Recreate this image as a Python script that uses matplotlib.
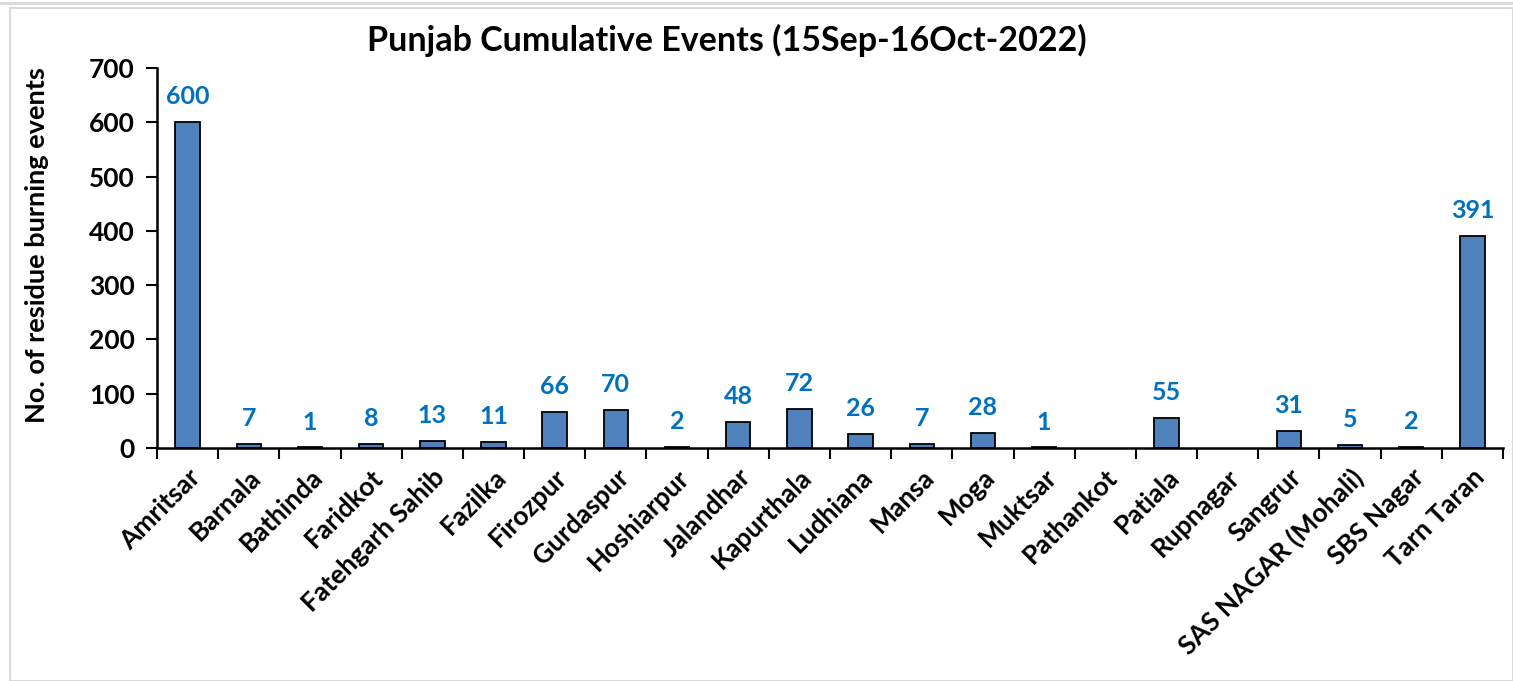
import numpy as np
import matplotlib
matplotlib.use("Agg")
import matplotlib.pyplot as plt
from matplotlib.patches import Rectangle

# DATA
districts = [
    "Amritsar", "Barnala", "Bathinda", "Faridkot", "Fatehgarh Sahib",
    "Fazilka", "Firozpur", "Gurdaspur", "Hoshiarpur", "Jalandhar",
    "Kapurthala", "Ludhiana", "Mansa", "Moga", "Muktsar", "Pathankot",
    "Patiala", "Rupnagar", "Sangrur", "SAS NAGAR (Mohali)", "SBS Nagar",
    "Tarn Taran",
]
events = [600, 7, 1, 8, 13, 11, 66, 70, 2, 48, 72, 26, 7, 28, 1, 0,
          55, 0, 31, 5, 2, 391]

title = "Punjab Cumulative Events (15Sep-16Oct-2022)"
ylabel = "No. of residue burning events"

plt.rcParams["font.family"] = ["Lato", "DejaVu Sans"]
plt.rcParams["font.weight"] = "bold"

fig = plt.figure(figsize=(15.13, 6.81), dpi=100)

# outer chart frame
fig.patches.append(Rectangle(
    (10 / 1513, 0), 1 - 10 / 1513, 1 - 8 / 681,
    transform=fig.transFigure, fill=False,
    edgecolor="#d9d9d9", linewidth=1.5
))
fig.add_artist(plt.Line2D([0, 1], [1 - 3 / 681, 1 - 3 / 681],
                          transform=fig.transFigure,
                          color="#d9d9d9", linewidth=2))

ax = fig.add_axes([157 / 1513, 1 - 448 / 681, 1346 / 1513, 380 / 681])

x = np.arange(len(districts))
vals = np.array(events, dtype=float)
shown = vals > 0

# zero-valued districts get no bar
ax.bar(x[shown], vals[shown], width=0.4, color="#4F81BD",
       edgecolor="black", linewidth=1.3, zorder=2)

# value labels
for xi, v in zip(x[shown], vals[shown]):
    ax.annotate(f"{int(v)}", (xi, v), xytext=(0, 10),
                textcoords="offset points", ha="center", va="bottom",
                fontsize=18, fontweight="bold", color="#0070C0")

ax.set_xlim(-0.5, len(districts) - 0.5)
ax.set_ylim(0, 700)
ax.set_yticks(range(0, 701, 100))

# category labels at centers, tick marks at boundaries
ax.set_xticks(x)
ax.set_xticklabels(districts, rotation=45, ha="right",
                   rotation_mode="anchor", fontsize=19, fontweight="bold")
ax.tick_params(axis="x", which="major", length=0, pad=12)
ax.set_xticks(np.arange(-0.5, len(districts), 1.0), minor=True)
ax.tick_params(axis="x", which="minor", length=8, width=1.5,
               direction="out")
ax.tick_params(axis="y", length=8, width=1.5, direction="out",
               labelsize=19, pad=8)
for lab in ax.get_yticklabels():
    lab.set_fontweight("bold")

for side in ["top", "right"]:
    ax.spines[side].set_visible(False)
for side in ["left", "bottom"]:
    ax.spines[side].set_linewidth(1.8)

ax.set_ylabel(ylabel, fontsize=19.5, fontweight="bold")
ax.yaxis.set_label_coords(-0.08, 0.535)
fig.text(727 / 1513, 1 - 40 / 681, title, ha="center", va="center",
         fontsize=24.5, fontweight="bold")

fig.savefig("out.png", dpi=100)
